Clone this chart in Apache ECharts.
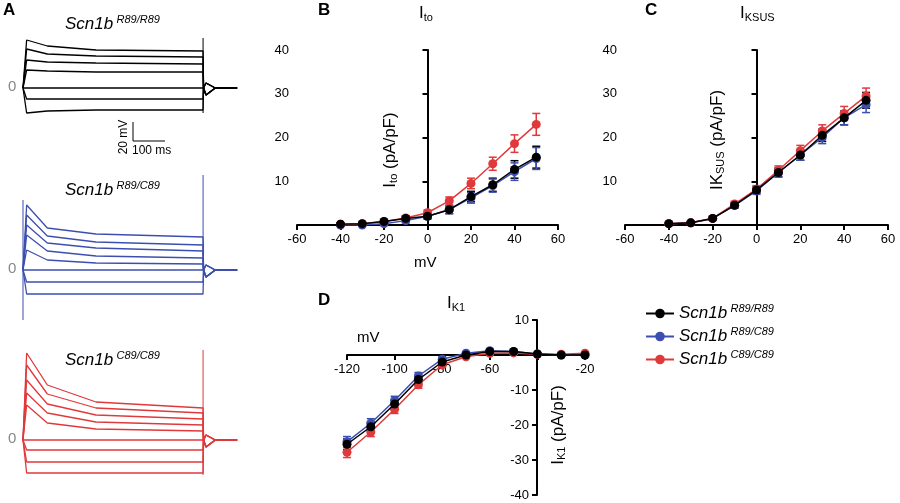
<!DOCTYPE html>
<html><head><meta charset="utf-8">
<script src="https://cdn.jsdelivr.net/npm/echarts@6/dist/echarts.min.js"></script>
<style>html,body{margin:0;background:#fff}#c{width:900px;height:503px}</style>
</head><body><div id="c"></div>
<script>
// ---- data ----
var genoNames = ['R89/R89', 'R89/C89', 'C89/C89'];
var genoColors = ['#000000', '#3c4fb0', '#e0393b'];

var ivX = [-40, -30, -20, -10, 0, 10, 20, 30, 40, 50];
var itoBlack = [0.2, 0.3, 0.8, 1.5, 2, 3.5, 6.5, 9.2, 12.7, 15.5];
var itoBlue = [0, 0, 0.3, 1, 2, 3.5, 6.2, 9, 12.2, 15.2];
var itoRed = [0.2, 0.3, 0.8, 1.6, 2.8, 5.5, 9.5, 14, 18.6, 23];
var itoErr = [0.3, 0.3, 0.4, 0.5, 0.6, 0.9, 1.2, 1.5, 2, 2.5];
var starX = [30, 40, 50];
var starY = [17, 21.5, 26];

var ksusBlack = [0.3, 0.5, 1.5, 4.5, 8, 12, 16, 20.5, 24.5, 28.5];
var ksusBlue = [0.3, 0.5, 1.5, 4.5, 7.8, 12, 16, 20, 24.5, 27.5];
var ksusRed = [0.3, 0.5, 1.5, 4.8, 8.2, 12.5, 17, 21.5, 25.5, 29.5];
var ksusErr = [0.3, 0.3, 0.4, 0.6, 0.8, 1, 1.2, 1.4, 1.6, 1.8];

var k1X = [-120, -110, -100, -90, -80, -70, -60, -50, -40, -30, -20];
var k1Black = [-25.5, -20.5, -14, -7, -2, 0, 1, 1, 0.3, 0, 0];
var k1Blue = [-24.8, -19.5, -13, -6, -1.2, 0.5, 1.2, 1, 0.3, 0, 0];
var k1Red = [-27.8, -22, -15.5, -8.5, -2.8, -0.5, 0.5, 0.6, 0.2, 0.2, 0.5];
var k1Err = [1.5, 1.3, 1.2, 1, 0.7, 0.4, 0.3, 0.3, 0.3, 0.3, 0.3];

// current traces (arbitrary units, time in ms); each row = values at traceT
var traceT = [15, 100, 300, 740];
var blackTraces = [[48, 42, 38, 37], [39, 34, 32, 31], [28, 26, 25, 24], [18, 17, 16, 16], [0, 0, 0, 0], [-11, -11, -11, -11], [-25, -23, -22, -22]];
var blueTraces = [[65, 42, 36, 33], [55, 34, 28, 25], [45, 27, 22, 19], [35, 19, 14, 12], [20, 10, 7, 6], [0, 0, 0, 0], [-12, -12, -12, -12], [-24, -24, -24, -24]];
var redTraces = [[87, 55, 38, 32], [75, 46, 32, 27], [60, 36, 25, 21], [47, 27, 18, 15], [35, 17, 11, 9], [0, 0, 0, 0], [-10, -10, -10, -10], [-22, -22, -22, -22], [-33, -33, -33, -33]];

// ---- build ----
var series = [];
function tracePanel(traces, color, idx, spikes) {
  traces.forEach(function (tr) {
    var pts = [[0, 0]].concat(traceT.map(function (t, i) { return [t, tr[i]]; }));
    pts.push([742, 0], [752, tr[0] > 0 ? -7 : 5], [790, 0], [880, 0]);
    series.push({ type: 'line', xAxisIndex: idx, yAxisIndex: idx, data: pts, symbol: 'none', silent: true,
      lineStyle: { color: color, width: 1.3 } });
  });
  series.push({ type: 'line', xAxisIndex: idx, yAxisIndex: idx, symbol: 'none', lineStyle: { color: color, width: 1 },
    data: spikes });
}
tracePanel(blackTraces, genoColors[0], 0, [[740, -25], [740, 50]]);
tracePanel(blueTraces, genoColors[1], 1, [[0, -50], [0, 70], null, [740, 0], [740, 95]]);
tracePanel(redTraces, genoColors[2], 2, [[740, -35], [740, 90]]);

function ivPanel(xs, sets, err, idx, legendNames) {
  sets.forEach(function (ys, s) {
    var col = genoColors[s];
    series.push({ type: 'custom', xAxisIndex: idx, yAxisIndex: idx, silent: true, z: 3,
      data: xs.map(function (x, i) { return [x, ys[i] - err[i], ys[i] + err[i]]; }),
      renderItem: function (p, api) {
        var lo = api.coord([api.value(0), api.value(1)]);
        var hi = api.coord([api.value(0), api.value(2)]);
        var st = { stroke: col, lineWidth: 1.5 };
        return { type: 'group', children: [
          { type: 'line', shape: { x1: lo[0], y1: lo[1], x2: hi[0], y2: hi[1] }, style: st },
          { type: 'line', shape: { x1: lo[0] - 4, y1: lo[1], x2: lo[0] + 4, y2: lo[1] }, style: st },
          { type: 'line', shape: { x1: hi[0] - 4, y1: hi[1], x2: hi[0] + 4, y2: hi[1] }, style: st }
        ] };
      } });
    series.push({ type: 'line', name: legendNames ? genoNames[s] : undefined, xAxisIndex: idx, yAxisIndex: idx, z: s === 0 ? 5 : 4,
      data: xs.map(function (x, i) { return [x, ys[i]]; }), symbol: 'circle', symbolSize: 9,
      itemStyle: { color: col }, lineStyle: { color: col, width: 1.5 } });
  });
}
ivPanel(ivX, [itoBlack, itoBlue, itoRed], itoErr, 3);
ivPanel(ivX, [ksusBlack, ksusBlue, ksusRed], ksusErr, 4);
ivPanel(k1X, [k1Black, k1Blue, k1Red], k1Err, 5, true);
series.push({ type: 'scatter', xAxisIndex: 3, yAxisIndex: 3, symbol: 'circle', symbolSize: 1, itemStyle: { opacity: 0 }, z: 10,
  data: starX.map(function (x, i) { return [x, starY[i]]; }),
  label: { show: true, formatter: '*', fontSize: 26, fontWeight: 'bold', color: '#000', position: 'inside' } });

var hid = { show: false };
var font = 'Arial, Liberation Sans, sans-serif';
var axLine = { onZero: true, lineStyle: { color: '#000', width: 2 } };
var axTick = { lineStyle: { color: '#000', width: 2 }, length: 5 };
var lab = { color: '#000', fontSize: 13, fontFamily: font };
function no0(v) { return v === 0 ? '' : v; }

var grids = [
  { left: 23, top: 10, width: 219, height: 120 },
  { left: 23, top: 175, width: 219, height: 150 },
  { left: 23, top: 345, width: 219, height: 135 },
  { left: 297, top: 50, width: 261, height: 175 },
  { left: 625, top: 50, width: 263, height: 175 },
  { left: 347, top: 320, width: 238, height: 175 }
];
var xAxes = [
  { gridIndex: 0, type: 'value', min: 0, max: 900, show: false },
  { gridIndex: 1, type: 'value', min: 0, max: 900, show: false },
  { gridIndex: 2, type: 'value', min: 0, max: 900, show: false },
  { gridIndex: 3, type: 'value', min: -60, max: 60, interval: 20, axisLine: axLine, axisTick: axTick, axisLabel: lab, splitLine: hid },
  { gridIndex: 4, type: 'value', min: -60, max: 60, interval: 20, axisLine: axLine, axisTick: axTick, axisLabel: lab, splitLine: hid },
  { gridIndex: 5, type: 'value', min: -120, max: -20, interval: 20, position: 'bottom', offset: -140,
    axisLine: { onZero: false, lineStyle: { color: '#000', width: 2 } }, axisTick: axTick, splitLine: hid,
    axisLabel: Object.assign({}, lab, { formatter: function (v) { return v === -40 ? '' : v; } }) }
];
var yAxes = [
  { gridIndex: 0, type: 'value', min: -42, max: 78, show: false },
  { gridIndex: 1, type: 'value', min: -55, max: 95, show: false },
  { gridIndex: 2, type: 'value', min: -40, max: 95, show: false },
  { gridIndex: 3, type: 'value', min: 0, max: 40, interval: 10, axisLine: axLine, axisTick: axTick, splitLine: hid,
    axisLabel: Object.assign({}, lab, { formatter: no0 }) },
  { gridIndex: 4, type: 'value', min: 0, max: 40, interval: 10, axisLine: axLine, axisTick: axTick, splitLine: hid,
    axisLabel: Object.assign({}, lab, { formatter: no0 }) },
  { gridIndex: 5, type: 'value', min: -40, max: 10, interval: 10, position: 'right', offset: -48,
    axisLine: { onZero: false, lineStyle: { color: '#000', width: 2 } }, axisTick: Object.assign({ inside: true }, axTick), splitLine: hid,
    axisLabel: Object.assign({}, lab, { inside: true, formatter: no0 }) }
];

function txt(x, y, t, o) {
  return { type: 'text', left: x, top: y, style: Object.assign({ text: t, fill: '#000', font: '14px ' + font }, o || {}) };
}
function genoTitle(x, y, sup) {
  return { type: 'text', left: x, top: y, style: { text: '{i|Scn1b} {s|' + sup + '}', fill: '#000',
    rich: { i: { font: 'italic 17px ' + font, fill: '#000' }, s: { font: 'italic 11px ' + font, padding: [0, 0, 10, 0], fill: '#000' } } } };
}
var subRich = { s: { font: '11px ' + font, padding: [8, 0, 0, 0] } };
var graphics = [
  txt(3, 2, 'A', { font: 'bold 17px ' + font }),
  txt(318, 2, 'B', { font: 'bold 17px ' + font }),
  txt(645, 2, 'C', { font: 'bold 17px ' + font }),
  txt(318, 292, 'D', { font: 'bold 17px ' + font }),
  genoTitle(65, 14, 'R89/R89'), genoTitle(65, 180, 'R89/C89'), genoTitle(65, 350, 'C89/C89'),
  txt(8, 79, '0', { fill: '#888', font: '15px ' + font }),
  txt(8, 261, '0', { fill: '#888', font: '15px ' + font }),
  txt(8, 431, '0', { fill: '#888', font: '15px ' + font }),
  { type: 'polyline', shape: { points: [[133, 122], [133, 141], [165, 141]] }, style: { stroke: '#000', lineWidth: 1, fill: null } },
  { type: 'text', x: 124, y: 137, rotation: Math.PI / 2, style: { text: '20 mV', font: '12px ' + font, fill: '#000', align: 'center', verticalAlign: 'middle' } },
  txt(132, 145, '100 ms', { font: '12px ' + font }),
  { type: 'text', left: 419, top: 5, style: { text: 'I{s|to}', font: '17px ' + font, fill: '#000', rich: subRich } },
  { type: 'text', left: 740, top: 5, style: { text: 'I{s|KSUS}', font: '17px ' + font, fill: '#000', rich: subRich } },
  { type: 'text', left: 447, top: 295, style: { text: 'I{s|K1}', font: '17px ' + font, fill: '#000', rich: subRich } },
  txt(414, 255, 'mV', { font: '15px ' + font }),
  txt(357, 330, 'mV', { font: '15px ' + font }),
  { type: 'text', x: 390, y: 150, rotation: Math.PI / 2, style: { text: 'I{s|to} (pA/pF)', font: '17px ' + font, fill: '#000', align: 'center', verticalAlign: 'middle', rich: subRich } },
  { type: 'text', x: 717, y: 140, rotation: Math.PI / 2, style: { text: 'IK{s|SUS} (pA/pF)', font: '17px ' + font, fill: '#000', align: 'center', verticalAlign: 'middle', rich: subRich } },
  { type: 'text', x: 558, y: 425, rotation: Math.PI / 2, style: { text: 'I{s|K1} (pA/pF)', font: '17px ' + font, fill: '#000', align: 'center', verticalAlign: 'middle', rich: subRich } }
];

var chart = echarts.init(document.getElementById('c'));
chart.setOption({
  animation: false,
  grid: grids, xAxis: xAxes, yAxis: yAxes, series: series, graphic: graphics,
  legend: { orient: 'vertical', left: 640, top: 298, itemGap: 4, itemWidth: 28, itemHeight: 12,
    data: genoNames.map(function (n, i) { return { name: n, itemStyle: { color: genoColors[i] } }; }),
    formatter: function (n) { return '{i|Scn1b} {s|' + n + '}'; },
    textStyle: { rich: {
      i: { fontStyle: 'italic', fontSize: 17, fontFamily: font, color: '#000' },
      s: { fontStyle: 'italic', fontSize: 11, fontFamily: font, color: '#000', padding: [0, 0, 10, 0] } } } }
});
</script></body></html>
